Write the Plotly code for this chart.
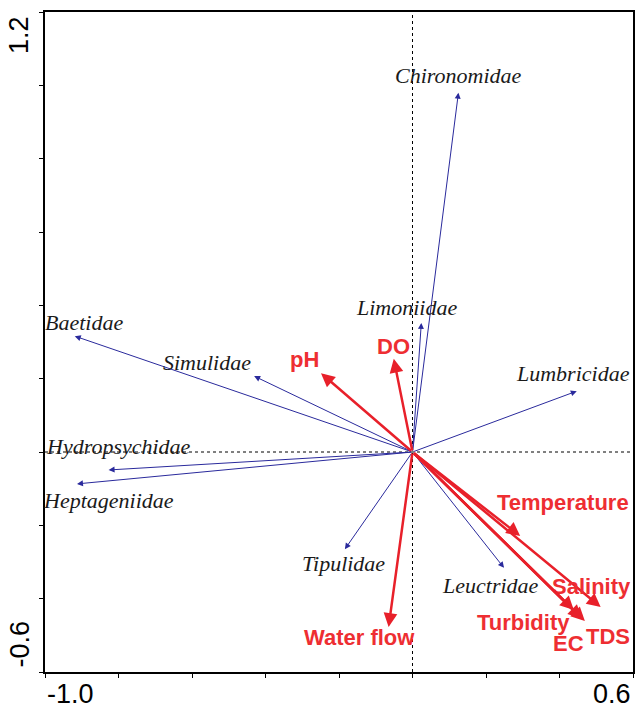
import plotly.graph_objects as go

# species (blue arrows), arrow tips in ordination space
species = ["Chironomidae", "Limoniidae", "Baetidae", "Simulidae", "Hydropsychidae",
           "Heptageniidae", "Lumbricidae", "Tipulidae", "Leuctridae"]
species_x = [0.125, 0.024, -0.919, -0.431, -0.827, -0.913, 0.447, -0.184, 0.249]
species_y = [0.980, 0.352, 0.316, 0.207, -0.049, -0.087, 0.166, -0.265, -0.316]
species_lx = [0.125, -0.016, -0.894, -0.560, -0.799, -0.826, 0.438, -0.188, 0.212]
species_ly = [1.028, 0.393, 0.352, 0.243, 0.014, -0.131, 0.215, -0.303, -0.365]

# environmental variables (red arrows)
env = ["pH", "DO", "Water flow", "Temperature", "Salinity", "Turbidity", "EC", "TDS"]
env_x = [-0.249, -0.051, -0.065, 0.293, 0.512, 0.439, 0.461, 0.469]
env_y = [0.215, 0.254, -0.477, -0.229, -0.423, -0.431, -0.455, -0.461]
env_lx = [-0.293, -0.052, -0.144, 0.410, 0.488, 0.302, 0.424, 0.533]
env_ly = [0.251, 0.289, -0.505, -0.139, -0.368, -0.464, -0.521, -0.502]

x_ticks = [-1.0, -0.8, -0.6, -0.4, -0.2, 0.0, 0.2, 0.4, 0.6]
y_ticks = [-0.6, -0.4, -0.2, 0.0, 0.2, 0.4, 0.6, 0.8, 1.0, 1.2]

BLUE = "#2a2a9c"
RED = "#e8202a"

fig = go.Figure()
fig.add_trace(go.Scatter(x=[0], y=[0], mode="markers", marker=dict(size=1, color="rgba(0,0,0,0)"),
                         showlegend=False, hoverinfo="skip"))

# reference lines through origin
fig.add_vline(x=0, line=dict(color="black", width=1, dash="dot"))
fig.add_hline(y=0, line=dict(color="black", width=1, dash="dot"))

annotations = []
for name, x, y, lx, ly in zip(species, species_x, species_y, species_lx, species_ly):
    annotations.append(dict(x=x, y=y, ax=0, ay=0, xref="x", yref="y", axref="x", ayref="y",
                            text="", showarrow=True, arrowhead=2, arrowsize=1.2, arrowwidth=1,
                            arrowcolor=BLUE, standoff=0, startstandoff=0))
    annotations.append(dict(x=lx, y=ly, xref="x", yref="y", text="<i>%s</i>" % name, showarrow=False,
                            font=dict(family="Liberation Serif", size=22, color="#1a1a1a"),
                            xanchor="center", yanchor="middle"))

for name, x, y, lx, ly in zip(env, env_x, env_y, env_lx, env_ly):
    annotations.append(dict(x=x, y=y, ax=0, ay=0, xref="x", yref="y", axref="x", ayref="y",
                            text="", showarrow=True, arrowhead=2, arrowsize=1.1, arrowwidth=2.5,
                            arrowcolor=RED, standoff=0, startstandoff=0))
    annotations.append(dict(x=lx, y=ly, xref="x", yref="y", text="<b>%s</b>" % name, showarrow=False,
                            font=dict(family="Liberation Sans", size=22, color="#ee2e32"),
                            xanchor="center", yanchor="middle"))

# end tick labels only
tick_font = dict(family="Liberation Sans", size=27, color="black")
annotations += [
    dict(x=0, y=0, xref="paper", yref="paper", text="-1.0", showarrow=False, font=tick_font,
         xanchor="left", yanchor="top", yshift=-5),
    dict(x=1, y=0, xref="paper", yref="paper", text="0.6", showarrow=False, font=tick_font,
         xanchor="right", yanchor="top", yshift=-5),
    dict(x=0, y=1, xref="paper", yref="paper", text="1.2", showarrow=False, font=tick_font,
         textangle=-90, xanchor="right", yanchor="top", xshift=-9, yshift=-2),
    dict(x=0, y=0, xref="paper", yref="paper", text="-0.6", showarrow=False, font=tick_font,
         textangle=-90, xanchor="right", yanchor="bottom", xshift=-9, yshift=2),
]

fig.update_layout(
    width=636, height=709,
    margin=dict(l=45, r=1, t=12, b=37),
    plot_bgcolor="white", paper_bgcolor="white",
    annotations=annotations,
    showlegend=False,
)
fig.update_xaxes(range=[-1.0, 0.6], tickvals=x_ticks, ticktext=[""] * len(x_ticks),
                 ticks="outside", ticklen=4, tickcolor="black", showgrid=False, zeroline=False,
                 showline=True, linecolor="black", linewidth=2, mirror=True)
fig.update_yaxes(range=[-0.6, 1.2], tickvals=y_ticks, ticktext=[""] * len(y_ticks),
                 ticks="outside", ticklen=4, tickcolor="black", showgrid=False, zeroline=False,
                 showline=True, linecolor="black", linewidth=2, mirror=True)

fig.write_html("out.html", config={"displayModeBar": False},
               post_script="document.body.style.margin='0';document.body.style.overflow='hidden';")
